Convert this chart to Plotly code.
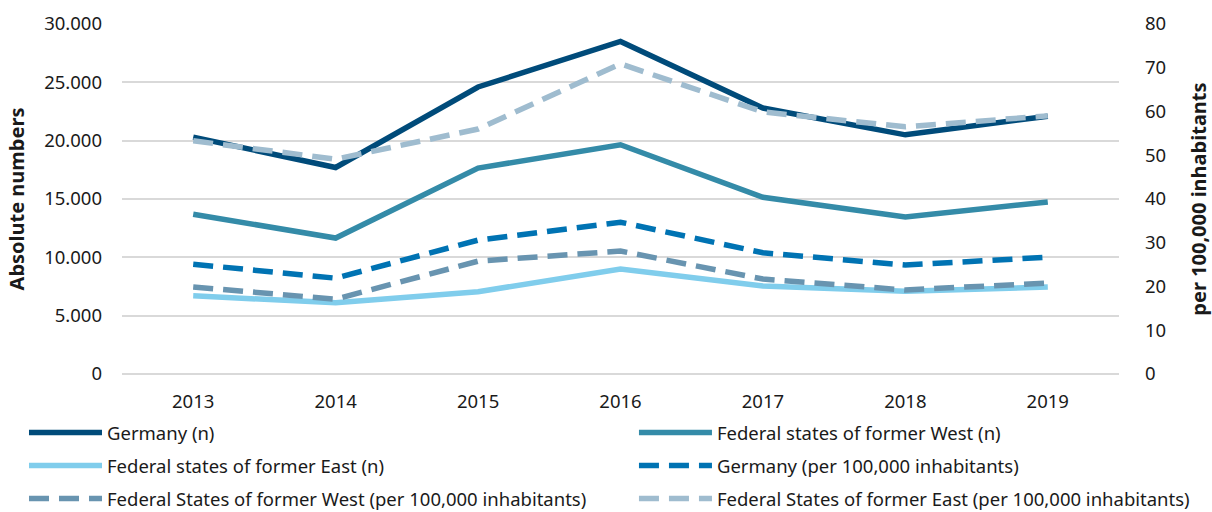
import plotly.graph_objects as go

years = ["2013", "2014", "2015", "2016", "2017", "2018", "2019"]
germany_n = [20300, 17700, 24600, 28500, 22800, 20500, 22100]
west_n = [13700, 11650, 17650, 19650, 15150, 13450, 14750]
east_n = [6700, 6100, 7050, 9000, 7550, 7100, 7450]
germany_rate = [25.1, 21.9, 30.6, 34.7, 27.7, 24.9, 26.7]
west_rate = [19.9, 17.1, 25.8, 28.1, 21.7, 19.2, 20.8]
east_rate = [53.3, 49.1, 56.0, 70.9, 59.9, 56.5, 59.0]

FONT = "Noto Sans"
FS = 18.5
fig = go.Figure()

series = [
    ("Germany (n)", germany_n, "#004b7a", "solid", "y"),
    ("Federal states of former West (n)", west_n, "#348ba8", "solid", "y"),
    ("Federal states of former East (n)", east_n, "#80cdec", "solid", "y"),
    ("Germany (per 100,000 inhabitants)", germany_rate, "#0073b3", "20px,10px", "y2"),
    ("Federal States of former West (per 100,000 inhabitants)", west_rate, "#6894b0", "20px,10px", "y2"),
    ("Federal States of former East (per 100,000 inhabitants)", east_rate, "#9fbccf", "20px,10px", "y2"),
]
legend_ids = ["legend", "legend2", "legend3", "legend4", "legend5", "legend6"]
for (name, vals, col, dash, ax), leg in zip(series, legend_ids):
    fig.add_trace(go.Scatter(
        x=years, y=vals, name=name, mode="lines", yaxis=ax, legend=leg,
        line=dict(color=col, width=5.5, dash=dash),
    ))

legcommon = dict(orientation="v", xanchor="left", yanchor="middle", itemwidth=73,
                 font=dict(family=FONT, size=FS, color="#1a1a1a"),
                 bgcolor="rgba(0,0,0,0)", itemclick=False)
col_x = [-0.0983, 0.5135]
row_y = [-0.1686, -0.2629, -0.357]
legends = {}
for i, leg in enumerate(legend_ids):
    legends[leg] = dict(**legcommon, x=col_x[i % 2], y=row_y[i // 2])

fig.update_layout(
    width=1212, height=512,
    margin=dict(l=122, r=93, t=24, b=138, autoexpand=False),
    plot_bgcolor="white", paper_bgcolor="white",
    separators=",.",
    font=dict(family=FONT, size=FS, color="#1a1a1a"),
    showlegend=True,
    **legends,
    xaxis=dict(type="category", range=[-0.5, 6.5], showgrid=False, showline=False, ticks="",
               tickfont=dict(size=FS), ticklabelstandoff=14),
    yaxis=dict(range=[0, 30000], dtick=5000, tickformat=",d",
               gridcolor="#d9d9d9", gridwidth=2, zeroline=True, zerolinecolor="#d9d9d9",
               zerolinewidth=2, showline=False, ticks="", ticklabelstandoff=19,
               tickfont=dict(size=FS),
               title=dict(text="<b>Absolute numbers</b>", font=dict(size=20), standoff=14)),
    yaxis2=dict(range=[0, 80], dtick=10, overlaying="y", side="right", showgrid=False,
                zeroline=False, showline=False, ticks="", ticklabelstandoff=25,
                tickfont=dict(size=FS),
                title=dict(text="<b>per 100,000 inhabitants</b>", font=dict(size=20), standoff=28)),
)

fig.write_html("out.html", config={"displayModeBar": False},
               post_script="document.body.style.margin='0';")
